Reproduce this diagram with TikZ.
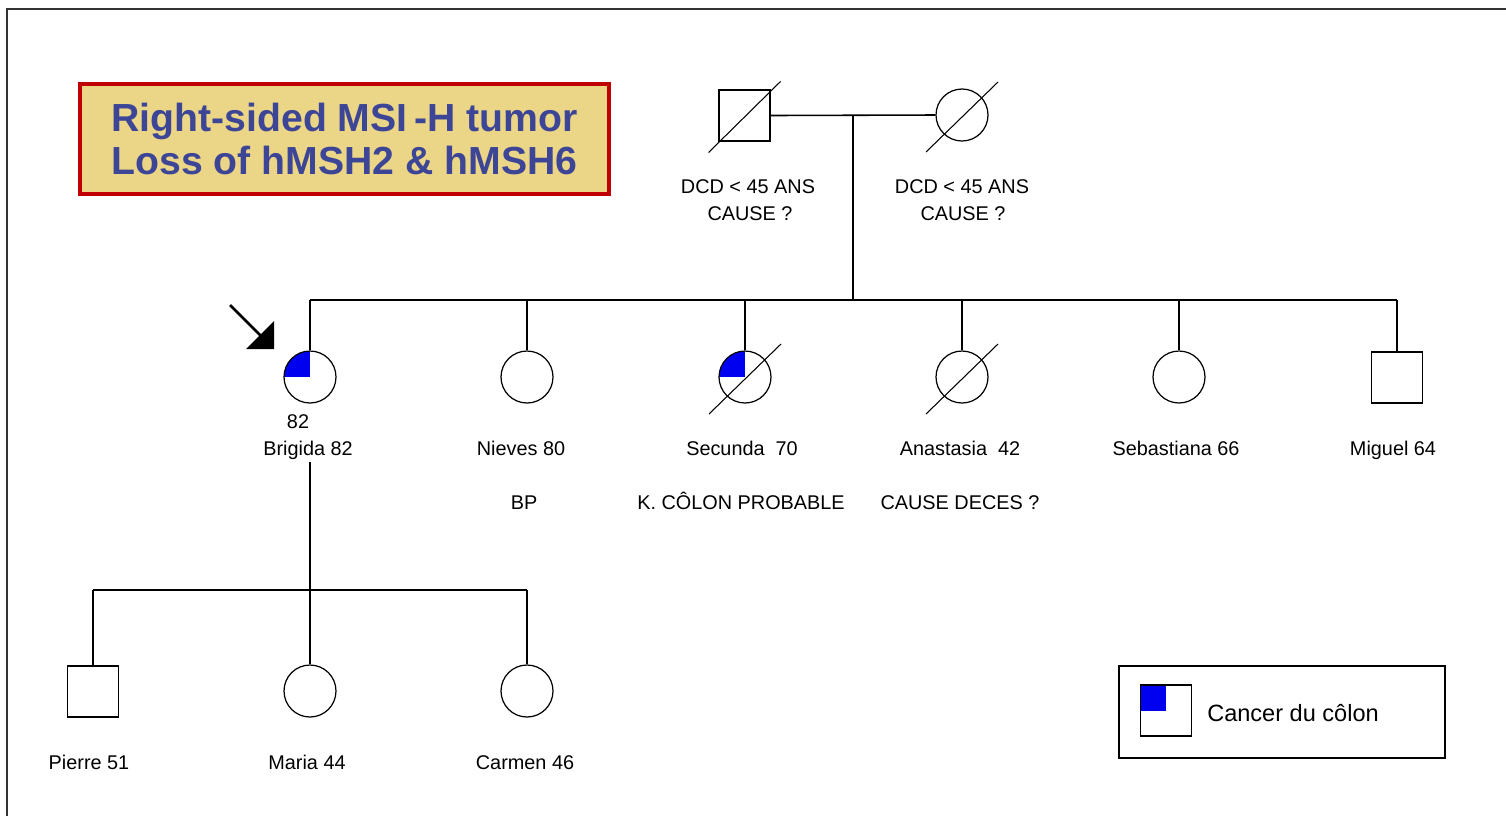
\documentclass[tikz,border=0pt]{standalone}
\usepackage{fontspec}
\setmainfont{Liberation Sans}
\definecolor{titlegold}{HTML}{EBD687}
\definecolor{titlered}{HTML}{C00000}
\definecolor{titleblue}{HTML}{3D4596}
\definecolor{affblue}{HTML}{0000F0}
\definecolor{framegray}{HTML}{333333}
\begin{document}
\begin{tikzpicture}[x=0.02cm,y=-0.02cm,
  line width=0.9pt,
  fem/.style={circle,draw,minimum size=1.04cm,inner sep=0pt,line width=0.7pt},
  mal/.style={rectangle,draw,minimum size=1.02cm,inner sep=0pt,line width=0.9pt},
  aff/.style={path picture={\fill[affblue] (path picture bounding box.center) rectangle (path picture bounding box.north west);}},
  lbl/.style={font=\fontsize{11.3}{13}\selectfont,inner sep=0pt,text height=8.1pt,text depth=0pt},
  dec/.style={line width=0.6pt}]
\useasboundingbox (0,0) rectangle (1506,816);
\fill[white] (0,0) rectangle (1506,816);
\draw[framegray,line width=1.2pt] (7,816) -- (7,9) -- (1506,9);

% title
\node[draw=titlered, fill=titlegold, line width=2pt, minimum width=10.58cm, minimum height=2.2cm,
  align=center, text=titleblue, font=\bfseries\fontsize{22.3}{25}\selectfont] (title) at (344.5,139)
  {Right-sided MSI\,-H tumor\\Loss of hMSH2 \& hMSH6};

% generation I
\node[mal] (gf) at (744.5,115.5) {};
\node[fem] (gm) at (962,115) {};
\draw[dec] ([shift={(-36,37)}]gf.center) -- ([shift={(36,-34)}]gf.center);
\draw[dec] ([shift={(-36,37)}]gm.center) -- ([shift={(36,-33)}]gm.center);
\node[lbl] (gft1) at (748,186) {DCD < 45 ANS};
\node[lbl] (gft2) at (750,213) {CAUSE ?};
\node[lbl] (gmt1) at (962,186) {DCD < 45 ANS};
\node[lbl] (gmt2) at (963,213) {CAUSE ?};

% generation II
\node[fem,aff] (brigida) at (310,377) {};
\node[fem] (nieves) at (527,377) {};
\node[fem,aff] (secunda) at (745,377) {};
\node[fem] (anastasia) at (962,377) {};
\node[fem] (sebastiana) at (1179,377) {};
\node[mal] (miguel) at (1397,377.5) {};
\draw[dec] ([shift={(-36,37)}]secunda.center) -- ([shift={(36,-33)}]secunda.center);
\draw[dec] ([shift={(-36,37)}]anastasia.center) -- ([shift={(36,-33)}]anastasia.center);

\node[lbl] (b82) at (298,421) {82};
\node[lbl] (bname) at (308,448) {Brigida 82};
\node[lbl] (nname) at (521,448) {Nieves 80};
\node[lbl] (nnote) at (524,502) {BP};
\node[lbl] (sname) at (742,448) {Secunda~~70};
\node[lbl] (snote) at (741,502) {K. CÔLON PROBABLE};
\node[lbl] (aname) at (960,448) {Anastasia~~42};
\node[lbl] (anote) at (960,502) {CAUSE DECES ?};
\node[lbl] (sbname) at (1176,448) {Sebastiana 66};
\node[lbl] (mname) at (1393,448) {Miguel 64};

% proband arrow
\draw[line width=1.6pt] (230,305) -- (262,337);
\fill (246,349) -- (274,321) -- (274,349) -- cycle;

% generation III
\node[mal] (pierre) at (93,691.5) {};
\node[fem] (maria) at (310,691) {};
\node[fem] (carmen) at (527,691) {};
\node[lbl] (pname) at (89,762) {Pierre 51};
\node[lbl] (maname) at (307,762) {Maria 44};
\node[lbl] (cname) at (525,762) {Carmen 46};

% connectors
\draw (gf.east) -- (gm.west);
\coordinate (m1) at (853,115);
\coordinate (s1) at (853,300);
\draw (m1) -- (s1);
\coordinate (sl) at (310,300);
\coordinate (sr) at (1397,300);
\draw (sl) -- (sr);
\foreach \n in {brigida,nieves,secunda,anastasia,sebastiana,miguel}
  \draw (\n.north) -- (\n.north |- sl);
\coordinate (bd) at (310,462);
\coordinate (gl) at (93,590);
\coordinate (gr) at (527,590);
\draw (bd) -- (maria.north);
\draw (gl) -- (gr);
\draw (pierre.north) -- (pierre.north |- gl);
\draw (carmen.north) -- (carmen.north |- gr);

% legend
\node[draw,line width=0.9pt,minimum width=6.52cm,minimum height=1.84cm,inner sep=0pt] (legend) at (1282,712) {};
\node[mal,aff,line width=0.8pt] (legsym) at (1166,710.5) {};
\node[font=\fontsize{13.4}{15}\selectfont,inner sep=0pt,text height=9.6pt,text depth=0pt] (legtext) at (1293,713) {Cancer du côlon};
\end{tikzpicture}
\end{document}
